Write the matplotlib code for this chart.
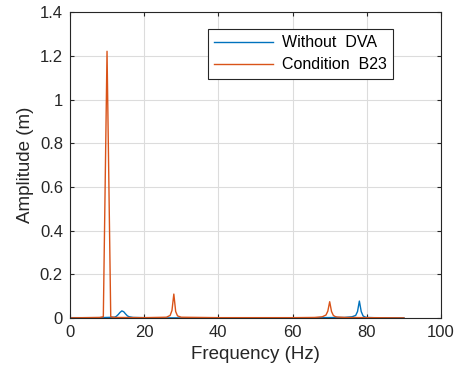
import matplotlib.pyplot as plt

plt.rcParams['font.family'] = ['Liberation Sans', 'DejaVu Sans']

# 无DVA时的频响 (Hz, m)
freq_a = [0, 8, 10, 12, 12.5, 13, 13.5, 14, 14.5, 15, 15.5, 16, 17, 20, 26, 28, 30,
          60, 74, 76, 77, 77.5, 78, 78.5, 79, 79.5, 80, 82, 90]
amp_a = [0.002, 0.002, 0.003, 0.004, 0.008, 0.016, 0.026, 0.033, 0.029, 0.019, 0.010,
         0.006, 0.003, 0.002, 0.001, 0.001, 0.001, 0.001, 0.003, 0.006, 0.012, 0.030,
         0.078, 0.030, 0.010, 0.005, 0.003, 0.002, 0.001]

# 工况 B23 的频响
freq_b = [0, 8, 9, 10, 11, 12, 20, 26, 27, 27.5, 28, 28.5, 29, 30, 40, 60, 66, 68,
          69, 69.5, 70, 70.5, 71, 71.5, 72, 74, 80, 90]
amp_b = [0.001, 0.003, 0.006, 1.222, 0.006, 0.003, 0.002, 0.004, 0.012, 0.035, 0.110,
         0.030, 0.010, 0.004, 0.002, 0.002, 0.003, 0.006, 0.014, 0.032, 0.075, 0.030,
         0.012, 0.007, 0.005, 0.003, 0.002, 0.001]

fig = plt.figure(figsize=(4.57, 3.76), dpi=100)
ax = fig.add_axes([0.153, 0.154, 0.812, 0.813])

ax.plot(freq_a, amp_a, color='#0072BD', lw=1.0, label='Without  DVA')
ax.plot(freq_b, amp_b, color='#D95319', lw=1.0, label='Condition  B23')

ax.set_xlim(0, 100)
ax.set_ylim(0, 1.4)
ax.set_xticks(range(0, 101, 20))
ax.set_yticks([0, 0.2, 0.4, 0.6, 0.8, 1.0, 1.2, 1.4])
ax.set_yticklabels(['0', '0.2', '0.4', '0.6', '0.8', '1', '1.2', '1.4'])
ax.grid(True, color='#dcdcdc', lw=0.8)
ax.set_axisbelow(True)
ax.tick_params(direction='in', top=True, right=True, labelsize=12,
               colors='#262626', length=3, pad=5)
for s in ax.spines.values():
    s.set_color('#262626')
    s.set_linewidth(0.8)

ax.set_xlabel('Frequency (Hz)', fontsize=13.5, color='#262626')
ax.set_ylabel('Amplitude (m)', fontsize=13.5, color='#262626')

leg = ax.legend(loc='upper right', bbox_to_anchor=(0.871, 0.946), borderaxespad=0,
                fontsize=11.5, handlelength=3.7, handletextpad=0.55,
                fancybox=False, framealpha=1, edgecolor='#262626',
                borderpad=0.4, labelspacing=0.45)
leg.get_frame().set_linewidth(0.8)

plt.savefig('out.png', dpi=100)
